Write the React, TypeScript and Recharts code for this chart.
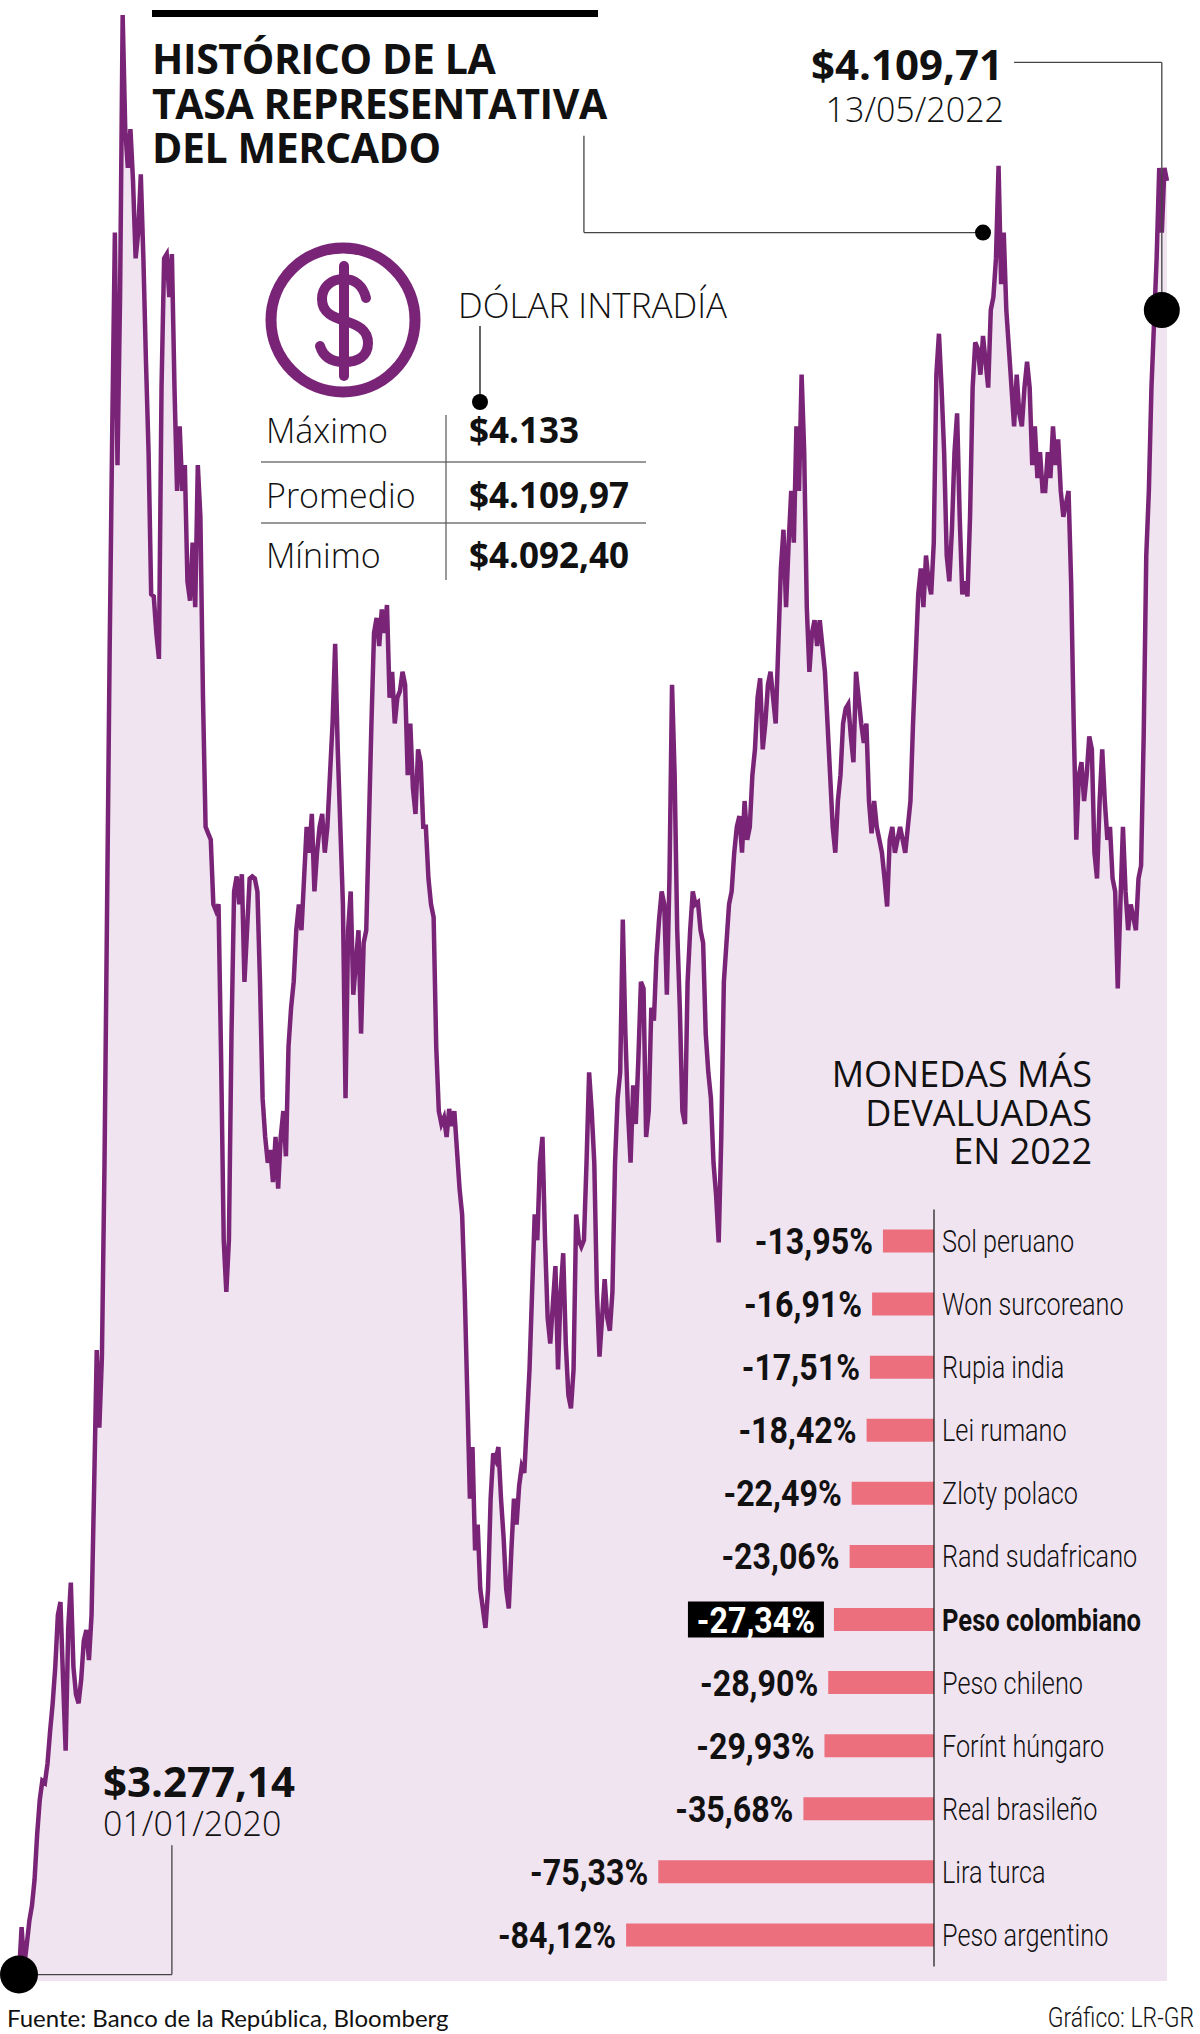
import React from 'react';
import {
  AreaChart,
  Area,
  XAxis,
  YAxis,
  ReferenceDot,
  ReferenceLine,
  BarChart,
  Bar,
  LabelList,
} from 'recharts';

// TRM (COP per USD), 01/01/2020 -> 13/05/2022
const trm: number[] = [
  3253, 3275, 3257, 3267, 3278, 3285, 3297, 3318, 3334, 3343,
  3342, 3351, 3366, 3379, 3396, 3420, 3426, 3390, 3357, 3414,
  3435, 3396, 3383, 3379, 3390, 3408, 3413, 3399, 3420, 3480,
  3543, 3507, 3540, 3630, 3750, 3870, 3972, 4062, 3954, 4032,
  4163, 4110, 4092, 4110, 4086, 4050, 4062, 4089, 4050, 4002,
  3960, 3894, 3893, 3876, 3864, 3990, 4050, 4052, 4032, 4052,
  3990, 3942, 3972, 3942, 3954, 3900, 3891, 3918, 3888, 3954,
  3930, 3846, 3786, 3783, 3780, 3750, 3747, 3750, 3678, 3594,
  3570, 3594, 3690, 3756, 3763, 3750, 3764, 3714, 3738, 3762,
  3763, 3762, 3756, 3714, 3660, 3642, 3630, 3636, 3621, 3642,
  3618, 3642, 3654, 3633, 3684, 3702, 3714, 3738, 3750, 3738,
  3762, 3786, 3774, 3792, 3756, 3774, 3786, 3792, 3774, 3786,
  3810, 3834, 3871, 3822, 3786, 3750, 3660, 3738, 3756, 3708,
  3723, 3738, 3690, 3732, 3738, 3786, 3834, 3876, 3883, 3870,
  3887, 3876, 3889, 3846, 3858, 3834, 3846, 3849, 3858, 3852,
  3810, 3834, 3804, 3792, 3822, 3816, 3786, 3786, 3762, 3750,
  3744, 3684, 3654, 3648, 3651, 3642, 3655, 3647, 3654, 3636,
  3618, 3606, 3570, 3522, 3474, 3498, 3450, 3462, 3432, 3423,
  3414, 3432, 3474, 3495, 3492, 3498, 3474, 3456, 3432, 3423,
  3450, 3474, 3462, 3480, 3489, 3486, 3510, 3534, 3570, 3606,
  3594, 3630, 3642, 3594, 3558, 3546, 3564, 3582, 3534, 3570,
  3588, 3546, 3522, 3516, 3534, 3606, 3594, 3591, 3594, 3630,
  3672, 3654, 3630, 3570, 3540, 3558, 3576, 3558, 3552, 3570,
  3630, 3660, 3672, 3743, 3690, 3654, 3630, 3666, 3648, 3678,
  3714, 3711, 3642, 3654, 3702, 3696, 3726, 3743, 3756, 3750,
  3708, 3762, 3852, 3810, 3738, 3702, 3654, 3648, 3714, 3738,
  3756, 3750, 3751, 3738, 3732, 3690, 3672, 3660, 3630, 3615,
  3593, 3642, 3714, 3732, 3750, 3756, 3774, 3786, 3791, 3774,
  3798, 3780, 3786, 3810, 3822, 3846, 3855, 3822, 3834, 3852,
  3858, 3846, 3834, 3870, 3906, 3924, 3888, 3918, 3942, 3918,
  3972, 3942, 3996, 3960, 3888, 3858, 3876, 3882, 3870, 3882,
  3870, 3858, 3834, 3810, 3786, 3774, 3798, 3810, 3834, 3841,
  3843, 3828, 3816, 3858, 3846, 3834, 3825, 3834, 3798, 3783,
  3798, 3786, 3780, 3774, 3762, 3749, 3780, 3786, 3774, 3780,
  3786, 3780, 3774, 3786, 3798, 3834, 3864, 3894, 3906, 3888,
  3912, 3900, 3894, 3918, 3996, 4015, 3990, 3960, 3912, 3900,
  3924, 3960, 3978, 3930, 3894, 3900, 3893, 3930, 3990, 4011,
  4008, 3996, 4014, 4002, 3990, 4026, 4032, 4050, 4093, 4038,
  4062, 4026, 4008, 3990, 3972, 3996, 3978, 3972, 3990, 4002,
  3990, 3954, 3972, 3948, 3960, 3942, 3942, 3960, 3948, 3972,
  3954, 3966, 3942, 3930, 3936, 3942, 3900, 3834, 3780, 3810,
  3816, 3798, 3810, 3828, 3822, 3774, 3762, 3798, 3822, 3798,
  3780, 3786, 3762, 3756, 3711, 3750, 3786, 3756, 3738, 3750,
  3744, 3738, 3762, 3768, 3828, 3912, 3942, 3990, 4020, 4050,
  4092, 4062, 4092, 4086,
];

const currencies = [
  'Sol peruano',
  'Won surcoreano',
  'Rupia india',
  'Lei rumano',
  'Zloty polaco',
  'Rand sudafricano',
  'Peso colombiano',
  'Peso chileno',
  'Forínt húngaro',
  'Real brasileño',
  'Lira turca',
  'Peso argentino',
];
const devaluation = [
  -13.95, -16.91, -17.51, -18.42, -22.49, -23.06, -27.34, -28.9, -29.93, -35.68, -75.33, -84.12,
];
const highlighted = 'Peso colombiano';

const headline = ['HISTÓRICO DE LA', 'TASA REPRESENTATIVA', 'DEL MERCADO'];
const intradayLabels = ['Máximo', 'Promedio', 'Mínimo'];
const intradayValues = ['$4.133', '$4.109,97', '$4.092,40'];
const startValue = '$3.277,14';
const startDate = '01/01/2020';
const endValue = '$4.109,71';
const endDate = '13/05/2022';
const barHeading = ['MONEDAS MÁS', 'DEVALUADAS', 'EN 2022'];

const trmData = trm.map((v, i) => ({ i, v }));
const barData = currencies.map((name, k) => ({ name, value: devaluation[k] }));
const highlightedValue = devaluation[currencies.indexOf(highlighted)];

const PURPLE = '#7a2478';
const FILL = '#f1e4f1';
const PINK = '#ec6f7e';
const INK = '#111';
const LINE = '#444';

const sans = "'Open Sans', 'Noto Sans', sans-serif";
const cond = "Roboto, 'DejaVu Sans Condensed', sans-serif";

const pct = (v: number) => `${v.toFixed(2).replace('.', ',')}%`;

// Roboto squeezed horizontally to stand in for a condensed face
function Narrow({ x, y, sx, anchor = 'start', size, weight = 400, fill = INK, children }: any) {
  return (
    <g transform={`translate(${x} ${y}) scale(${sx} 1)`}>
      <text x={0} y={0} textAnchor={anchor} fontFamily={cond} fontSize={size} fontWeight={weight} fill={fill}>
        {children}
      </text>
    </g>
  );
}

function CurrencyTick(props: any) {
  const { x, y, payload } = props;
  const bold = payload.value === highlighted;
  return (
    <Narrow x={x} y={y + 11} sx={bold ? 0.8 : 0.79} size={32} weight={bold ? 700 : 300}>
      {payload.value}
    </Narrow>
  );
}

function PctLabel(props: any) {
  const { x, y, width, height, value } = props;
  const left = Math.min(x, x + width);
  const cy = y + height / 2;
  if (value === highlightedValue) {
    const right = left - 10;
    return (
      <g>
        <rect x={right - 136} y={cy - 18} width={136} height={36} fill="#000" />
        <Narrow x={right - 68} y={cy + 13} sx={0.87} anchor="middle" size={37} weight={700} fill="#fff">
          {pct(value)}
        </Narrow>
      </g>
    );
  }
  return (
    <Narrow x={left - 10} y={cy + 13} sx={0.87} anchor="end" size={37} weight={700}>
      {pct(value)}
    </Narrow>
  );
}

export default function App() {
  return (
    <div
      style={{
        position: 'absolute',
        left: 0,
        top: 0,
        width: 1200,
        height: 2034,
        background: '#fff',
        overflow: 'hidden',
      }}
    >
      <div style={{ position: 'absolute', left: 0, top: 0 }}>
        <AreaChart
          width={1200}
          height={2034}
          data={trmData}
          margin={{ top: 0, right: 33, bottom: 53, left: 19 }}
        >
          <XAxis dataKey="i" type="number" domain={[0, trm.length - 1]} hide />
          <YAxis type="number" domain={[3250, 4170]} hide allowDataOverflow />
          <Area
            type="linear"
            dataKey="v"
            stroke={PURPLE}
            strokeWidth={4.5}
            fill={FILL}
            fillOpacity={1}
            dot={false}
            activeDot={false}
            isAnimationActive={false}
          />
          {/* start annotation connector */}
          <ReferenceLine segment={[{ x: 0, y: 3253 }, { x: 59, y: 3253 }]} stroke={LINE} strokeWidth={1.3} />
          <ReferenceLine segment={[{ x: 59, y: 3253 }, { x: 59, y: 3313 }]} stroke={LINE} strokeWidth={1.3} />
          {/* title pointer */}
          <ReferenceLine segment={[{ x: 218, y: 4107 }, { x: 218, y: 4062 }]} stroke={LINE} strokeWidth={1.3} />
          <ReferenceLine segment={[{ x: 218, y: 4062 }, { x: 372, y: 4062 }]} stroke={LINE} strokeWidth={1.3} />
          {/* end annotation connector */}
          <ReferenceLine segment={[{ x: 384, y: 4141 }, { x: 441, y: 4141 }]} stroke={LINE} strokeWidth={1.3} />
          <ReferenceLine segment={[{ x: 441, y: 4141 }, { x: 441, y: 4026 }]} stroke={LINE} strokeWidth={1.3} />
          <ReferenceDot x={0} y={trm[0]} r={19} fill="#000" stroke="none" />
          <ReferenceDot x={372} y={4062} r={8} fill="#000" stroke="none" />
          <ReferenceDot x={441} y={4026} r={18} fill="#000" stroke="none" />
        </AreaChart>
      </div>

      <svg
        width={1200}
        height={2034}
        style={{ position: 'absolute', left: 0, top: 0, pointerEvents: 'none' }}
      >
        <rect x={152} y={10} width={446} height={7} fill="#000" />
        {headline.map((t, k) => (
          <text
            key={t}
            x={152}
            y={74 + k * 44.5}
            fontFamily={sans}
            fontSize={41}
            fontWeight={700}
            letterSpacing={-0.4}
            fill={INK}
          >
            {t}
          </text>
        ))}

        <text x={1003} y={80} textAnchor="end" fontFamily={sans} fontSize={42} fontWeight={700} fill={INK}>
          {endValue}
        </text>
        <text x={1004} y={122} textAnchor="end" fontFamily={sans} fontSize={34} fontWeight={300} fill={INK}>
          {endDate}
        </text>

        <text x={103} y={1797} fontFamily={sans} fontSize={42} fontWeight={700} fill={INK}>
          {startValue}
        </text>
        <text x={103} y={1836} fontFamily={sans} fontSize={34} fontWeight={300} fill={INK}>
          {startDate}
        </text>

        {/* dollar icon */}
        <circle cx={343} cy={320} r={72} fill="none" stroke={PURPLE} strokeWidth={11} />
        <path d="M344 266 L344 376" stroke={PURPLE} strokeWidth={10} strokeLinecap="round" fill="none" />
        <path
          d="M366 298 C363 286 355 279 344 279 C330 279 322 288 322 299 C322 313 333 317 345 321 C358 325 368 330 368 343 C368 356 358 362 344 362 C331 362 323 356 320 346"
          stroke={PURPLE}
          strokeWidth={10}
          strokeLinecap="round"
          fill="none"
        />

        <text x={458} y={318} fontFamily={sans} fontSize={35} fontWeight={300} fill={INK}>
          DÓLAR INTRADÍA
        </text>
        <line x1={480} y1={326} x2={480} y2={402} stroke={INK} strokeWidth={1.3} />
        <circle cx={480} cy={402} r={8} fill="#000" />

        {intradayLabels.map((t, k) => (
          <text key={t} x={266} y={[443, 508, 568][k]} fontFamily={sans} fontSize={34} fontWeight={300} fill={INK}>
            {t}
          </text>
        ))}
        {intradayValues.map((t, k) => (
          <text key={t} x={469} y={[443, 508, 568][k]} fontFamily={sans} fontSize={35} fontWeight={700} fill={INK}>
            {t}
          </text>
        ))}
        <line x1={261} y1={462} x2={646} y2={462} stroke="#333" strokeWidth={1.2} />
        <line x1={261} y1={523} x2={646} y2={523} stroke="#333" strokeWidth={1.2} />
        <line x1={446} y1={415} x2={446} y2={580} stroke="#555" strokeWidth={1.2} />

        {barHeading.map((t, k) => (
          <text
            key={t}
            x={1092}
            y={1087 + k * 38.5}
            textAnchor="end"
            fontFamily={sans}
            fontSize={36}
            fontWeight={400}
            fill={INK}
          >
            {t}
          </text>
        ))}

        <text x={7} y={2027} fontFamily="Lato, 'Open Sans', sans-serif" fontSize={24} fill={INK}>
          Fuente: Banco de la República, Bloomberg
        </text>
        <Narrow x={1194} y={2027} sx={0.85} anchor="end" size={27} weight={300}>
          Gráfico: LR-GR
        </Narrow>
      </svg>

      <div style={{ position: 'absolute', left: 460, top: 1180 }}>
        <BarChart
          width={740}
          height={800}
          data={barData}
          layout="vertical"
          margin={{ top: 29.5, right: 0, bottom: 13.5, left: 108 }}
          barCategoryGap={0}
        >
          <XAxis type="number" domain={[-100, 0]} hide />
          <YAxis
            type="category"
            dataKey="name"
            orientation="right"
            width={266}
            interval={0}
            tickLine={false}
            tickSize={0}
            tickMargin={8}
            axisLine={{ stroke: '#222', strokeWidth: 1.3 }}
            tick={<CurrencyTick />}
          />
          <Bar dataKey="value" fill={PINK} barSize={23} isAnimationActive={false}>
            <LabelList dataKey="value" content={<PctLabel />} />
          </Bar>
        </BarChart>
      </div>
    </div>
  );
}
